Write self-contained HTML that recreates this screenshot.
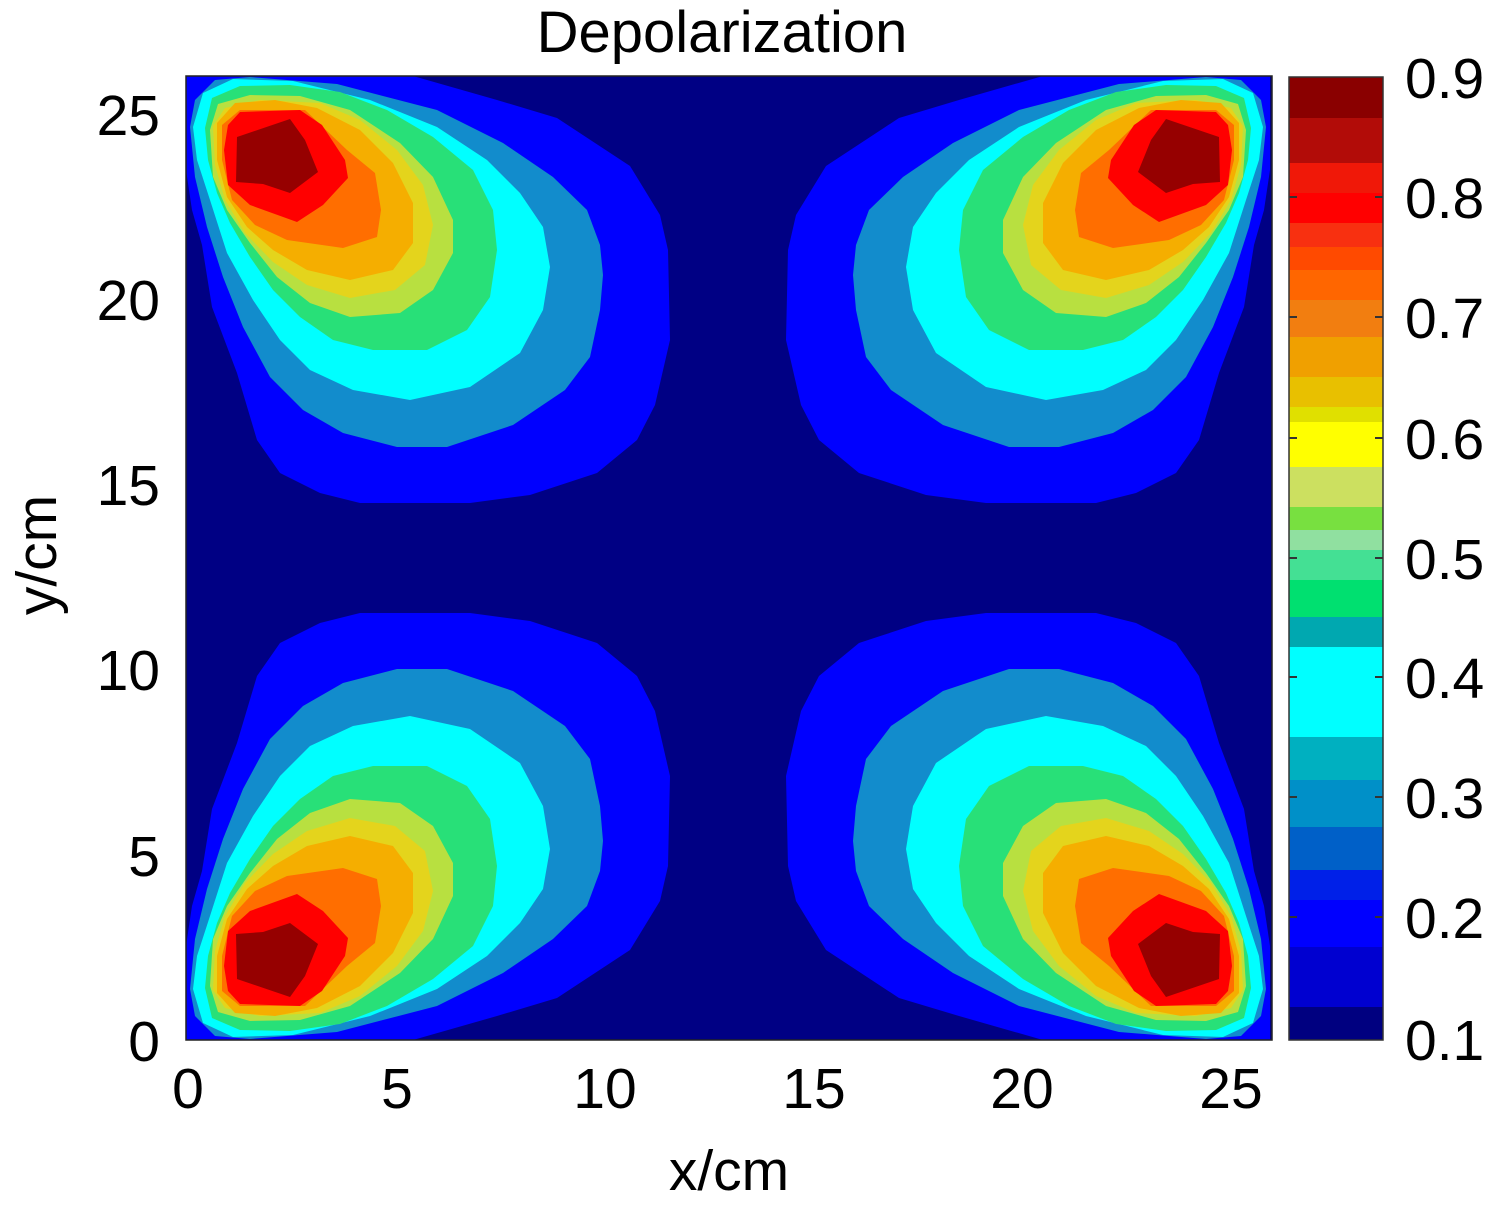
<!DOCTYPE html>
<html>
<head>
<meta charset="utf-8">
<style>
  html, body { margin: 0; padding: 0; background: #ffffff; }
  svg { display: block; }
  text { font-family: "Liberation Sans", Arial, sans-serif; fill: #000; }
</style>
</head>
<body>
<svg width="1486" height="1205" viewBox="0 0 1486 1205" xmlns="http://www.w3.org/2000/svg">
  <defs>
    <clipPath id="plotclip">
      <rect x="186" y="76" width="1086" height="964"/>
    </clipPath>
    <g id="lobe">
      <path fill="#0000ff" d="M186,76 L413,76 L497,100 L557,118 L630,166 L660,215 L668,250 L670,340 L655,405 L637,440 L597,473 L530,495 L470,503 L360,503 L320,493 L280,473 L257,440 L237,373 L212,307 L202,245 L192,210 L186,170 Z"/>
      <path fill="#128ccc" d="M190,127 L195,100 L215,80 L250,77 L337,84 L437,110 L503,143 L553,177 L587,210 L600,245 L603,275 L600,310 L590,357 L565,390 L513,425 L447,447 L397,447 L343,433 L303,410 L270,377 L243,327 L223,277 L207,227 L195,177 Z"/>
      <path fill="#00ffff" d="M193,127 L203,93 L233,79 L293,81 L370,100 L437,127 L487,160 L520,193 L543,227 L550,267 L543,310 L520,353 L470,387 L410,400 L353,390 L310,370 L280,340 L253,300 L227,253 L210,200 L197,160 Z"/>
      <path fill="#28e078" d="M205,128 L212,98 L240,86 L290,85 L340,92 L387,110 L433,137 L473,170 L493,210 L497,250 L490,297 L467,330 L427,350 L373,350 L333,340 L300,317 L273,290 L250,257 L230,223 L217,193 L208,160 Z"/>
      <path fill="#b8e040" d="M210,130 L218,104 L250,95 L300,96 L350,110 L400,143 L433,177 L453,220 L453,253 L433,290 L400,313 L350,317 L310,303 L277,277 L250,243 L227,210 L213,177 Z"/>
      <path fill="#e4d41c" d="M213,126 L225,108 L260,100 L320,103 L360,120 L397,150 L423,185 L433,225 L425,265 L395,290 L350,298 L307,285 L273,262 L245,233 L225,200 L215,165 Z"/>
      <path fill="#f5ae00" d="M217,123 L235,103 L275,100 L317,108 L360,130 L393,163 L413,203 L413,243 L393,270 L350,280 L307,270 L273,250 L247,227 L227,197 L217,160 Z"/>
      <path fill="#ff6e00" d="M222,125 L240,110 L305,110 L347,150 L375,173 L381,210 L377,237 L343,248 L287,240 L255,225 L232,200 L222,160 Z"/>
      <path fill="#ff0000" d="M228,125 L240,112 L300,110 L322,125 L345,160 L348,178 L323,205 L297,222 L250,205 L228,185 L224,150 Z"/>
      <path fill="#960000" d="M237,137 L290,119 L305,140 L318,172 L290,193 L263,184 L236,182 Z"/>
    </g>
  </defs>

  <!-- Title -->
  <text x="722" y="52" font-size="58" text-anchor="middle">Depolarization</text>

  <!-- Plot area -->
  <g clip-path="url(#plotclip)">
    <rect x="186" y="76" width="1086" height="964" fill="#000084"/>
    <use href="#lobe"/>
    <use href="#lobe" transform="translate(1456,0) scale(-1,1)"/>
    <use href="#lobe" transform="translate(0,1116) scale(1,-1)"/>
    <use href="#lobe" transform="translate(1456,1116) scale(-1,-1)"/>
  </g>
  <rect x="186" y="76" width="1086" height="964" fill="none" stroke="#222" stroke-width="1.5"/>

  <!-- Y tick labels -->
  <g font-size="57" text-anchor="end">
    <text x="160" y="135">25</text>
    <text x="160" y="320">20</text>
    <text x="160" y="505">15</text>
    <text x="160" y="690">10</text>
    <text x="160" y="876">5</text>
    <text x="160" y="1061">0</text>
  </g>

  <!-- X tick labels -->
  <g font-size="57" text-anchor="middle">
    <text x="188" y="1108">0</text>
    <text x="397" y="1108">5</text>
    <text x="605" y="1108">10</text>
    <text x="814" y="1108">15</text>
    <text x="1022" y="1108">20</text>
    <text x="1231" y="1108">25</text>
  </g>

  <!-- Axis labels -->
  <text x="729" y="1190" font-size="57" text-anchor="middle">x/cm</text>
  <text transform="translate(56,555) rotate(-90)" font-size="57" text-anchor="middle">y/cm</text>

  <!-- Colorbar -->
  <g>
    <rect x="1289" y="77" width="94" height="41" fill="#8a0000"/>
    <rect x="1289" y="118" width="94" height="45" fill="#b20c08"/>
    <rect x="1289" y="163" width="94" height="30" fill="#f01808"/>
    <rect x="1289" y="193" width="94" height="30" fill="#ff0000"/>
    <rect x="1289" y="223" width="94" height="24" fill="#f83010"/>
    <rect x="1289" y="247" width="94" height="23" fill="#ff4a00"/>
    <rect x="1289" y="270" width="94" height="30" fill="#ff6600"/>
    <rect x="1289" y="300" width="94" height="37" fill="#f27e10"/>
    <rect x="1289" y="337" width="94" height="40" fill="#f0a000"/>
    <rect x="1289" y="377" width="94" height="30" fill="#e8c000"/>
    <rect x="1289" y="407" width="94" height="15" fill="#e0e000"/>
    <rect x="1289" y="422" width="94" height="45" fill="#ffff00"/>
    <rect x="1289" y="467" width="94" height="40" fill="#cce060"/>
    <rect x="1289" y="507" width="94" height="23" fill="#78e040"/>
    <rect x="1289" y="530" width="94" height="20" fill="#90e0a0"/>
    <rect x="1289" y="550" width="94" height="30" fill="#44e094"/>
    <rect x="1289" y="580" width="94" height="37" fill="#00e070"/>
    <rect x="1289" y="617" width="94" height="30" fill="#00a8b0"/>
    <rect x="1289" y="647" width="94" height="90" fill="#00ffff"/>
    <rect x="1289" y="737" width="94" height="43" fill="#00b0c0"/>
    <rect x="1289" y="780" width="94" height="47" fill="#0090c8"/>
    <rect x="1289" y="827" width="94" height="43" fill="#0060c8"/>
    <rect x="1289" y="870" width="94" height="30" fill="#0020e8"/>
    <rect x="1289" y="900" width="94" height="47" fill="#0000ff"/>
    <rect x="1289" y="947" width="94" height="60" fill="#0000d0"/>
    <rect x="1289" y="1007" width="94" height="33" fill="#000080"/>
    <rect x="1289" y="77" width="94" height="963" fill="none" stroke="#333" stroke-width="1.5"/>
    <g stroke="#333" stroke-width="2">
      <line x1="1289" y1="197" x2="1297" y2="197"/><line x1="1375" y1="197" x2="1383" y2="197"/>
      <line x1="1289" y1="317" x2="1297" y2="317"/><line x1="1375" y1="317" x2="1383" y2="317"/>
      <line x1="1289" y1="438" x2="1297" y2="438"/><line x1="1375" y1="438" x2="1383" y2="438"/>
      <line x1="1289" y1="558" x2="1297" y2="558"/><line x1="1375" y1="558" x2="1383" y2="558"/>
      <line x1="1289" y1="677" x2="1297" y2="677"/><line x1="1375" y1="677" x2="1383" y2="677"/>
      <line x1="1289" y1="797" x2="1297" y2="797"/><line x1="1375" y1="797" x2="1383" y2="797"/>
      <line x1="1289" y1="917" x2="1297" y2="917"/><line x1="1375" y1="917" x2="1383" y2="917"/>
    </g>
  </g>

  <!-- Colorbar labels -->
  <g font-size="57" text-anchor="start">
    <text x="1405" y="98">0.9</text>
    <text x="1405" y="218">0.8</text>
    <text x="1405" y="338">0.7</text>
    <text x="1405" y="459">0.6</text>
    <text x="1405" y="579">0.5</text>
    <text x="1405" y="698">0.4</text>
    <text x="1405" y="818">0.3</text>
    <text x="1405" y="938">0.2</text>
    <text x="1405" y="1060">0.1</text>
  </g>
</svg>
</body>
</html>
